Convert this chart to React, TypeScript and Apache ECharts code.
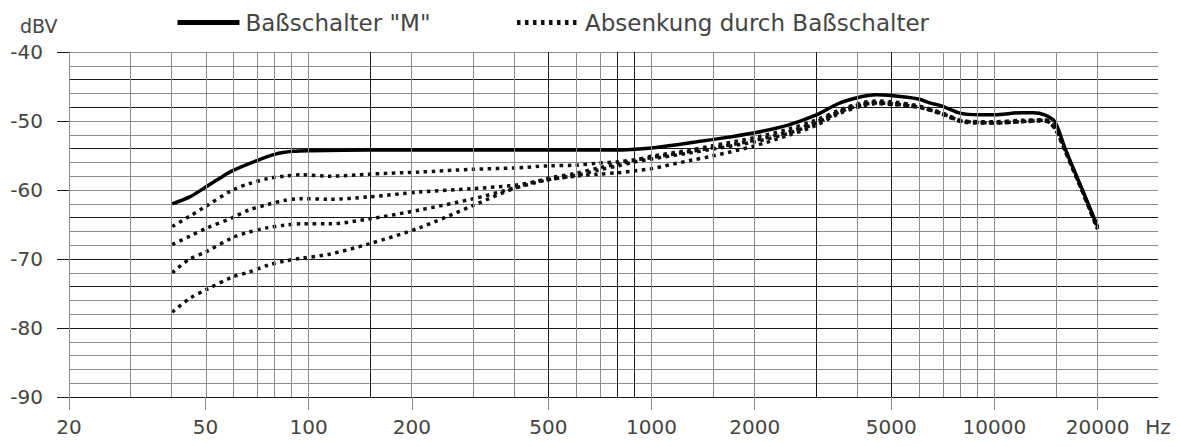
import React, { useEffect, useRef } from "react";
import * as echarts from "echarts";

// ---- data ----
const SOLID_NAME = 'Baßschalter "M"';
const DOTTED_NAME = "Absenkung durch Baßschalter";

const freqSolid = [40, 45, 50, 55, 60, 70, 80, 90, 100, 150, 200, 300, 500, 700, 850, 1000, 1200, 1500, 2000, 2500, 3000, 3500, 4000, 4500, 5000, 6000, 6500, 7000, 8000, 9000, 10000, 12000, 13000, 14000, 15000, 16000, 17000, 18000, 20000];
const valSolid = [-62.0, -61.0, -59.6, -58.3, -57.2, -55.8, -54.8, -54.4, -54.3, -54.2, -54.2, -54.2, -54.2, -54.2, -54.15, -53.9, -53.4, -52.7, -51.7, -50.6, -49.2, -47.5, -46.6, -46.2, -46.3, -46.8, -47.4, -47.8, -48.9, -49.1, -49.1, -48.8, -48.8, -49.1, -50.1, -53.7, -56.9, -59.8, -65.3];

const freqDotted = [40, 45, 50, 60, 67, 76, 85, 95, 115, 150, 210, 300, 400, 500, 600, 700, 800, 900, 1000, 1300, 1500, 2000, 2500, 3000, 3500, 4000, 4500, 5000, 6000, 7000, 8000, 9000, 10000, 12000, 14000, 15000, 16000, 17000, 18000, 20000];
const valDotted1 = [-65.3, -63.8, -62.4, -60.0, -59.1, -58.35, -58.0, -57.8, -58.0, -57.7, -57.4, -57.0, -56.8, -56.5, -56.4, -56.1, -55.9, -55.6, -55.3, -54.4, -53.9, -52.8, -51.6, -50.2, -48.7, -47.7, -47.3, -47.4, -47.9, -48.9, -50.0, -50.2, -50.2, -50.0, -49.9, -51.0, -54.0, -57.1, -60.0, -65.6];
const valDotted2 = [-67.9, -66.7, -65.6, -64.0, -62.9, -62.1, -61.5, -61.25, -61.35, -61.0, -60.3, -59.8, -59.3, -58.5, -58.0, -57.7, -57.5, -57.2, -56.9, -55.7, -55.1, -53.6, -52.1, -50.7, -49.0, -48.0, -47.5, -47.6, -48.0, -49.0, -50.1, -50.3, -50.3, -50.1, -50.0, -51.1, -54.1, -57.2, -60.1, -65.7];
const valDotted3 = [-72.0, -70.0, -69.0, -66.9, -66.1, -65.45, -65.1, -64.9, -64.9, -64.2, -62.9, -61.3, -59.7, -58.5, -57.9, -57.1, -56.5, -55.9, -55.5, -54.6, -54.1, -53.0, -51.8, -50.4, -48.8, -47.8, -47.4, -47.5, -48.0, -48.9, -50.0, -50.2, -50.3, -50.1, -49.9, -51.0, -54.0, -57.1, -60.0, -65.6];
const valDotted4 = [-77.7, -75.7, -74.5, -72.6, -71.9, -70.9, -70.3, -69.9, -69.3, -67.8, -65.5, -62.3, -59.7, -58.3, -57.6, -56.8, -56.2, -55.7, -55.1, -54.2, -53.6, -52.4, -51.2, -49.9, -48.5, -47.5, -47.1, -47.2, -47.8, -48.8, -49.9, -50.1, -50.1, -49.9, -49.8, -50.9, -53.9, -57.0, -59.9, -65.5];

const xLabelFreqs = [20, 50, 100, 200, 500, 1000, 2000, 5000, 10000, 20000];
const xMinFreq = 20;
const xMaxFreq = 30000;
const xGridFreqs = [30, 40, 50, 60, 70, 80, 90, 100, 150, 200, 300, 400, 500, 600, 700, 800, 900, 1000, 1500, 2000, 3000, 4000, 5000, 6000, 7000, 8000, 9000, 10000, 15000, 20000, 30000];
const xDarkGridFreqs = [150, 500, 800, 900, 3000, 5000];
const yMin = -90;
const yMax = -40;
const yLabelStep = 10;
const yGridStep = 2;
const yDarkGrid = [-90, -80, -74, -70, -64, -54, -48, -44];

// ---- style ----
const FONT = "'DejaVu Sans', sans-serif";
const TEXT = "#444";
const GRAY = "#8c8c8c";
const DARK = "#1a1a1a";

const lg = (f: number) => Math.log10(f);
const pairs = (fs: number[], vs: number[]) => fs.map((f, i) => [lg(f), vs[i]]);

function buildOption() {
  const yColors: string[] = [];
  for (let v = yMin; v <= yMax; v += yGridStep) yColors.push(yDarkGrid.includes(v) ? DARK : GRAY);

  const dottedStyle = { color: "#111", width: 3.5, type: [3.5, 4.5] as number[], cap: "butt" };
  const dottedSeries = [valDotted1, valDotted2, valDotted3, valDotted4].map((vals) => ({
    type: "line",
    name: DOTTED_NAME,
    data: pairs(freqDotted, vals),
    showSymbol: false,
    symbol: "none",
    smooth: 0.3,
    lineStyle: dottedStyle,
    itemStyle: { color: "#111" },
    z: 3,
    silent: true,
  }));

  return {
    animation: false,
    title: {
      text: "dBV",
      left: 15,
      top: 11,
      textStyle: { fontFamily: FONT, fontSize: 19, fontWeight: "normal", color: TEXT },
    },
    legend: {
      data: [{ name: SOLID_NAME }, { name: DOTTED_NAME }],
      left: 170,
      top: 6,
      itemWidth: 62,
      itemHeight: 14,
      itemGap: 84,
      selectedMode: false,
      itemStyle: { opacity: 0 },
      lineStyle: { width: 5 },
      textStyle: { fontFamily: FONT, fontSize: 23, color: TEXT, padding: [0, 0, 0, 1] },
    },
    grid: { left: 69, right: 22, top: 52, bottom: 50, containLabel: false },
    xAxis: {
      type: "value",
      min: lg(xMinFreq),
      max: lg(xMaxFreq),
      axisLine: { show: true, lineStyle: { color: DARK, width: 1 } },
      axisTick: {
        show: true,
        length: 13,
        customValues: xLabelFreqs.map(lg),
        lineStyle: { color: GRAY, width: 1 },
      },
      axisLabel: {
        show: true,
        customValues: [...xLabelFreqs, xMaxFreq].map(lg),
        formatter: (v: number) => {
          const f = Math.round(Math.pow(10, v));
          return f >= xMaxFreq - 1 ? "Hz" : String(f);
        },
        margin: 20,
        fontFamily: FONT,
        fontSize: 20,
        color: TEXT,
      },
      splitLine: { show: false },
    },
    yAxis: [
      {
        type: "value",
        min: yMin,
        max: yMax,
        interval: yLabelStep,
        axisLine: { show: true, lineStyle: { color: GRAY, width: 1 } },
        axisTick: { show: true, length: 12, lineStyle: { color: DARK, width: 1 } },
        axisLabel: { margin: 26, fontFamily: FONT, fontSize: 20, color: TEXT },
        splitLine: { show: false },
      },
      {
        type: "value",
        position: "left",
        min: yMin,
        max: yMax,
        interval: yGridStep,
        axisLine: { show: false },
        axisTick: { show: false },
        axisLabel: { show: false },
        splitLine: { show: true, lineStyle: { color: yColors, width: 1 } },
      },
    ],
    series: [
      {
        type: "line",
        name: "grid",
        data: [],
        z: 1,
        silent: true,
        markLine: {
          silent: true,
          symbol: ["none", "none"],
          label: { show: false },
          animation: false,
          data: xGridFreqs.map((f) => ({
            xAxis: lg(f),
            lineStyle: { color: xDarkGridFreqs.includes(f) ? DARK : GRAY, width: 1, type: "solid" },
          })),
        },
      },
      ...dottedSeries,
      {
        type: "line",
        name: SOLID_NAME,
        data: pairs(freqSolid, valSolid),
        showSymbol: false,
        symbol: "none",
        smooth: 0.3,
        lineStyle: { color: "#000", width: 3.5, type: "solid" },
        itemStyle: { color: "#000" },
        z: 4,
        silent: true,
      },
    ],
  };
}

export default function App() {
  const ref = useRef<HTMLDivElement>(null);
  useEffect(() => {
    if (!ref.current) return;
    const chart = echarts.init(ref.current, null, { renderer: "svg" });
    chart.setOption(buildOption() as any);
    return () => chart.dispose();
  }, []);
  return (
    <div
      ref={ref}
      style={{ position: "absolute", left: 0, top: 0, width: 1180, height: 447, background: "#fff" }}
    />
  );
}
